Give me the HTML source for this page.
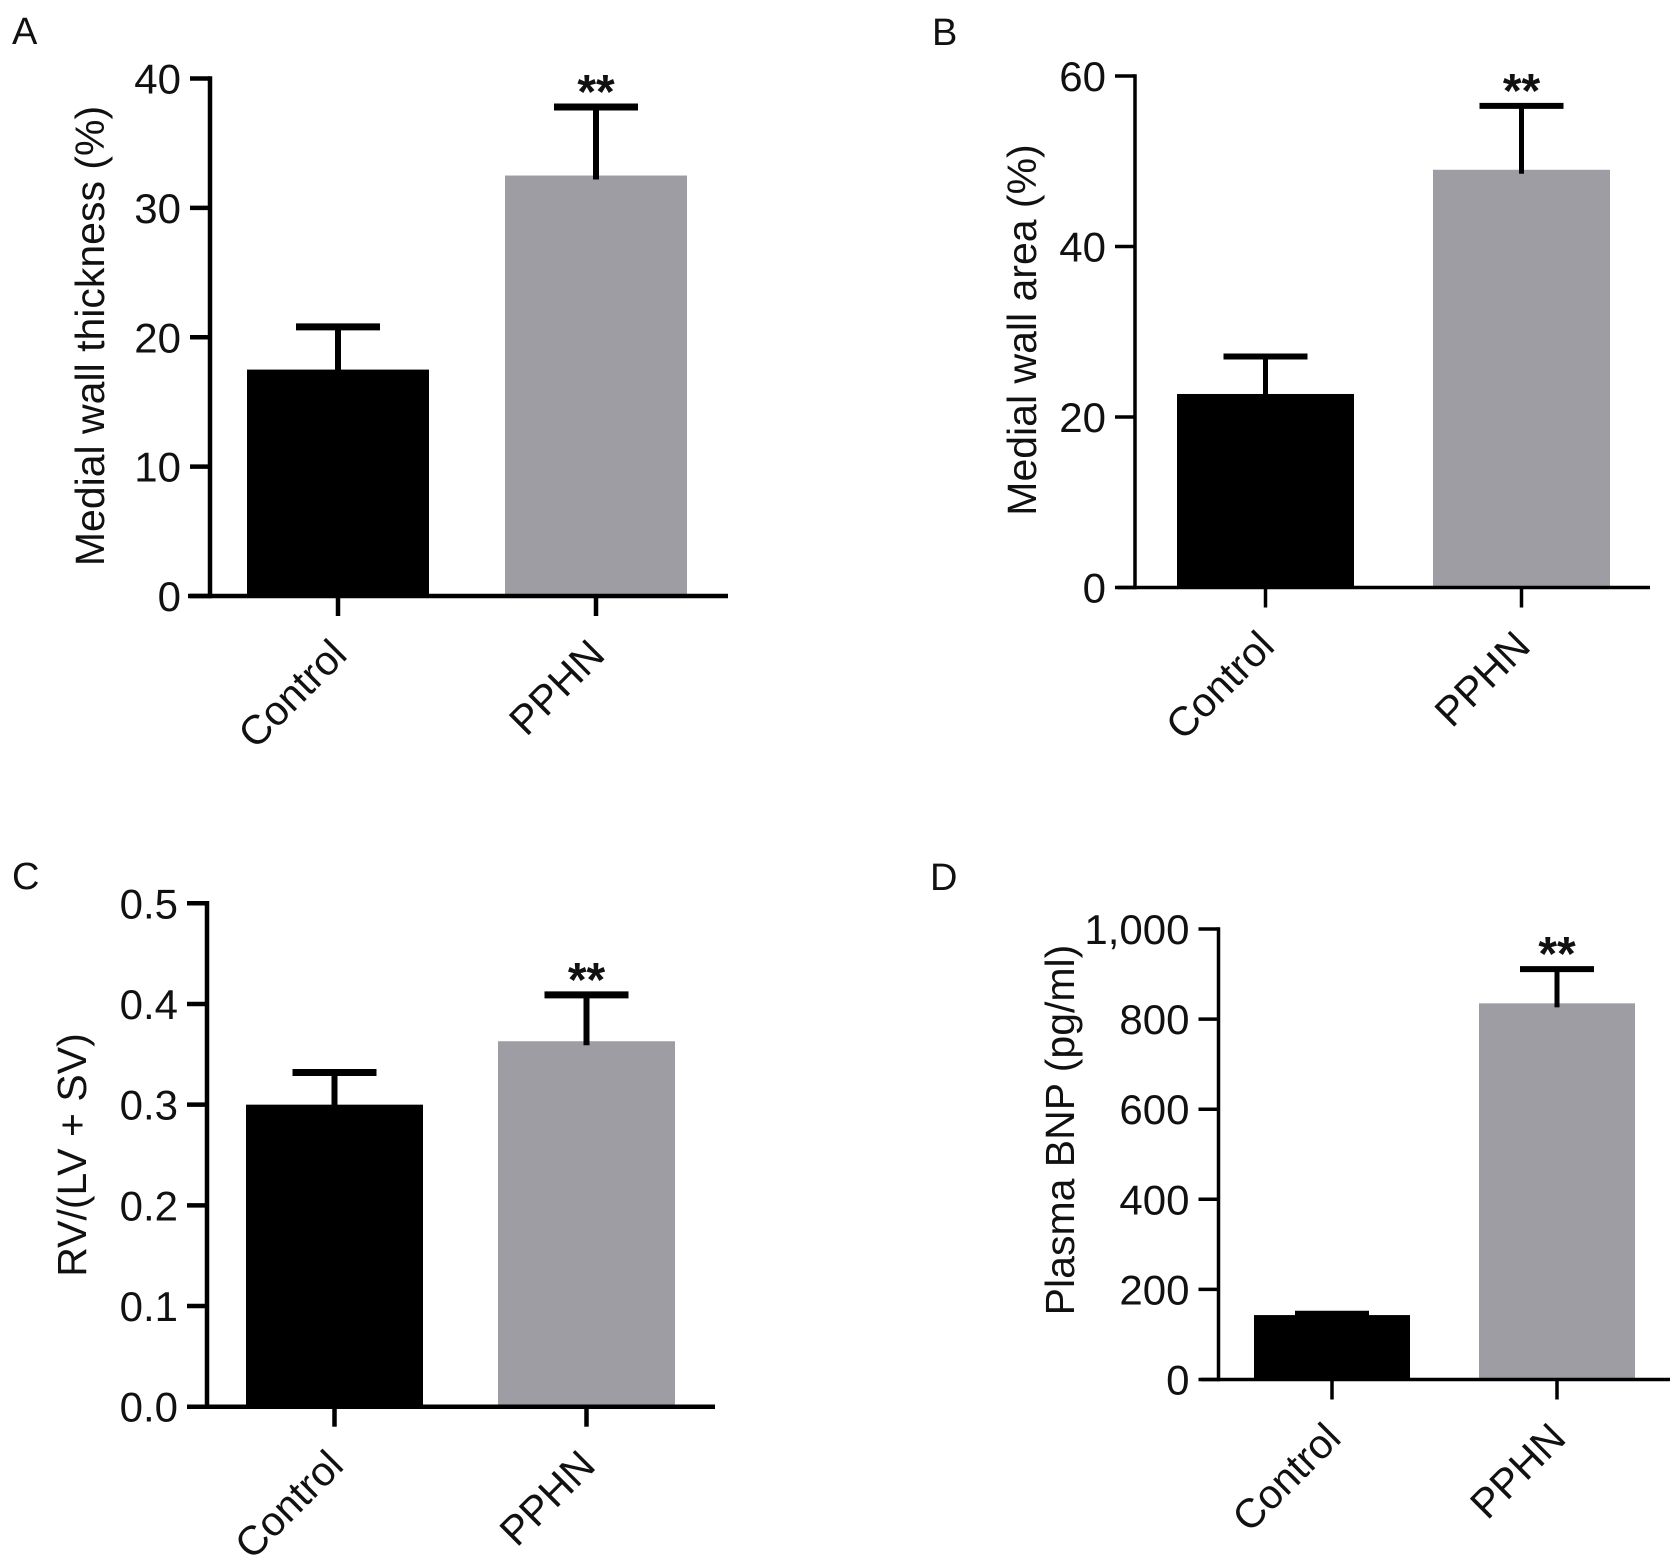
<!DOCTYPE html>
<html><head><meta charset="utf-8"><style>
html,body{margin:0;padding:0;background:#fff;}
svg{display:block;font-family:"Liberation Sans",Arial,sans-serif;}
</style></head><body>
<svg id="fig" width="1680" height="1563" viewBox="0 0 1680 1563" xmlns="http://www.w3.org/2000/svg"></svg>
<script>
// ---- data ----
const categories = ["Control", "PPHN"];
const valuesA = [17.5, 32.5];
const errorsA = [20.8, 37.8];
const ticksA = [0, 10, 20, 30, 40];
const tickLabelsA = ["0", "10", "20", "30", "40"];
const valuesB = [22.7, 49.0];
const errorsB = [27.1, 56.5];
const ticksB = [0, 20, 40, 60];
const tickLabelsB = ["0", "20", "40", "60"];
const valuesC = [0.300, 0.363];
const errorsC = [0.332, 0.409];
const ticksC = [0, 0.1, 0.2, 0.3, 0.4, 0.5];
const tickLabelsC = ["0.0", "0.1", "0.2", "0.3", "0.4", "0.5"];
const valuesD = [143, 835];
const errorsD = [146, 911];
const ticksD = [0, 200, 400, 600, 800, 1000];
const tickLabelsD = ["0", "200", "400", "600", "800", "1,000"];
const signif = ["", "**"];

const NS = "http://www.w3.org/2000/svg";
const svg = document.getElementById("fig");
function mk(tag, attrs, parent, text) {
  const e = document.createElementNS(NS, tag);
  for (const k in attrs) e.setAttribute(k, attrs[k]);
  if (text !== undefined) e.textContent = text;
  (parent || svg).appendChild(e);
  return e;
}

function panel(cfg, values, errors, ticks, tickLabels) {
  const g = mk("g", {});
  
  
  const y = v => cfg.y0 + (v - cfg.ymin) / (cfg.ymax - cfg.ymin) * (cfg.y1 - cfg.y0);
  const lw = cfg.lw;
  const L = mk("text", {x: cfg.lx, y: cfg.ly, "font-size": 38, fill: "#111"}, g, cfg.letter);
  
  
  for (let i = 0; i < values.length; i++) {
    const b = mk("rect", {x: cfg.barX[i], y: y(values[i]), width: cfg.barW, height: y(cfg.ymin) - y(values[i]), fill: i === 0 ? "#000" : "#9e9da4"}, g);
    
    
    const cx = cfg.barX[i] + cfg.barW / 2;
    const eb = mk("g", {}, g);
    
    
    mk("line", {x1: cx, x2: cx, y1: y(values[i]) + 4, y2: y(errors[i]), stroke: "#000", "stroke-width": cfg.ew}, eb);
    mk("line", {x1: cx - cfg.capW / 2, x2: cx + cfg.capW / 2, y1: y(errors[i]), y2: y(errors[i]), stroke: "#000", "stroke-width": cfg.ew + 1}, eb);
    if (signif[i]) {
      const s = mk("text", {x: cx, y: y(errors[i]) + 1, "font-size": 48, "text-anchor": "middle", fill: "#111", "font-weight": "bold"}, g, signif[i]);
      
      
    }
  }
  const ya = mk("g", {}, g);
  
  
  mk("line", {x1: cfg.ax, x2: cfg.ax, y1: y(cfg.ymax) - lw / 2, y2: y(cfg.ymin) + lw / 2, stroke: "#000", "stroke-width": lw}, ya);
  for (let i = 0; i < ticks.length; i++) {
    mk("line", {x1: cfg.ax - 20, x2: cfg.ax, y1: y(ticks[i]), y2: y(ticks[i]), stroke: "#000", "stroke-width": lw}, ya);
    const t = mk("text", {x: cfg.ax - 29, y: y(ticks[i]) + 15, "font-size": 42, "text-anchor": "end", fill: "#111"}, ya, tickLabels[i]);
    
    
  }
  const yt = mk("text", {x: 0, y: 0, "font-size": 41, "text-anchor": "middle", fill: "#111", transform: `translate(${cfg.tx},${cfg.ty}) rotate(-90)`}, g, cfg.title);
  
  
  const xa = mk("g", {}, g);
  
  
  const by = y(cfg.ymin);
  mk("line", {x1: cfg.xl, x2: cfg.xr, y1: by, y2: by, stroke: "#000", "stroke-width": lw}, xa);
  for (let i = 0; i < categories.length; i++) {
    const cx = cfg.barX[i] + cfg.barW / 2;
    mk("line", {x1: cx, x2: cx, y1: by, y2: by + 20, stroke: "#000", "stroke-width": lw}, xa);
    const c = mk("text", {x: 0, y: 0, "font-size": 41, "text-anchor": "end", "dominant-baseline": "hanging", fill: "#111", transform: `translate(${cx - 10},${by + 40}) rotate(-45)`}, xa, categories[i]);
    
    
  }
}

panel({letter: "A", lx: 12, ly: 44, ax: 210, y0: 596, y1: 78.5, ymin: 0, ymax: 40, xl: 188, xr: 728,
  barX: [247, 505], barW: 182, capW: 84, ew: 6, lw: 4.5, tx: 104, ty: 336, title: "Medial wall thickness (%)"},
  valuesA, errorsA, ticksA, tickLabelsA);
panel({letter: "B", lx: 932, ly: 45, ax: 1135, y0: 587.5, y1: 76, ymin: 0, ymax: 60, xl: 1118, xr: 1650,
  barX: [1177, 1433], barW: 177, capW: 84, ew: 5, lw: 3.5, tx: 1036, ty: 330, title: "Medial wall area (%)"},
  valuesB, errorsB, ticksB, tickLabelsB);
panel({letter: "C", lx: 12, ly: 889, ax: 207, y0: 1406.7, y1: 903.3, ymin: 0, ymax: 0.5, xl: 189, xr: 715,
  barX: [246, 498], barW: 177, capW: 84, ew: 6, lw: 4.5, tx: 86, ty: 1155, title: "RV/(LV + SV)"},
  valuesC, errorsC, ticksC, tickLabelsC);
panel({letter: "D", lx: 930, ly: 890, ax: 1218.5, y0: 1379.5, y1: 929, ymin: 0, ymax: 1000, xl: 1201, xr: 1670,
  barX: [1254, 1479], barW: 156, capW: 74, ew: 5, lw: 3.5, tx: 1074, ty: 1130, title: "Plasma BNP (pg/ml)"},
  valuesD, errorsD, ticksD, tickLabelsD);
</script>
</body></html>
